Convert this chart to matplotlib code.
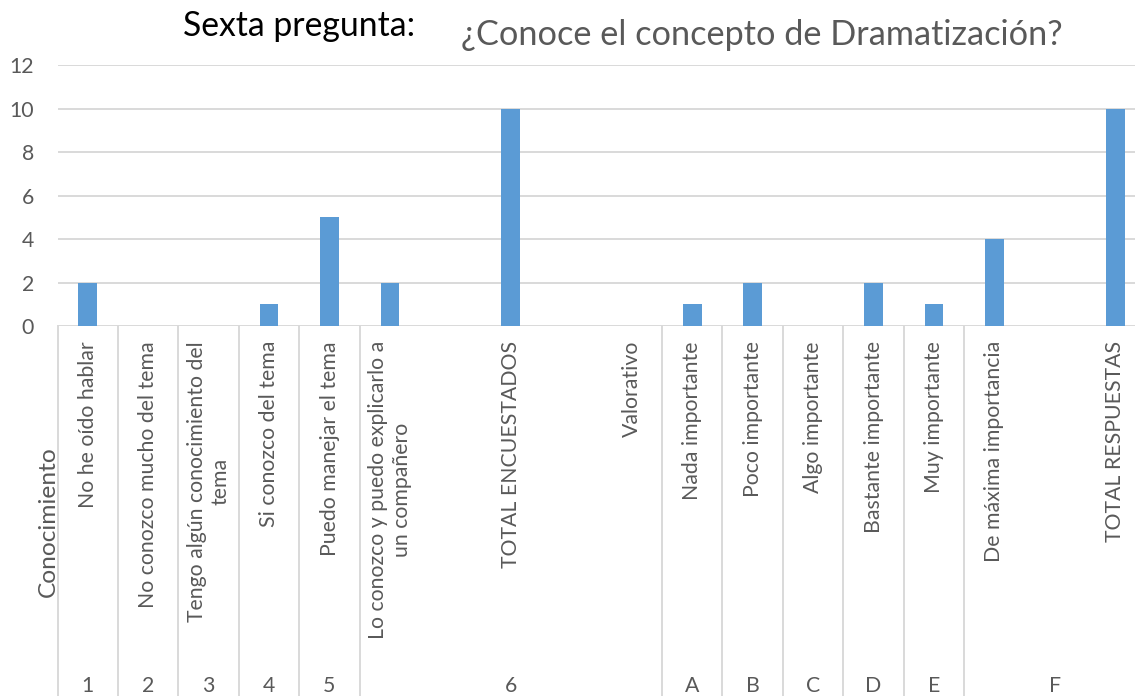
import matplotlib
matplotlib.use("Agg")
import matplotlib.pyplot as plt
import matplotlib.transforms as mtransforms
from matplotlib.lines import Line2D

# ---------------- data ----------------
categories = [
    "No he oído hablar",
    "No conozco mucho del tema",
    "Tengo algún conocimiento del\ntema",
    "Si conozco del tema",
    "Puedo manejar el tema",
    "Lo conozco y puedo explicarlo a\nun compañero",
    "",
    "TOTAL ENCUESTADOS",
    "",
    "Valorativo",
    "Nada importante",
    "Poco importante",
    "Algo importante",
    "Bastante importante",
    "Muy importante",
    "De máxima importancia",
    "",
    "TOTAL RESPUESTAS",
]
values = [2, 0, 0, 1, 5, 2, 0, 10, 0, 0, 1, 2, 0, 2, 1, 4, 0, 10]
group_labels = ["1", "2", "3", "4", "5", "6", "A", "B", "C", "D", "E", "F"]
group_sizes = [1, 1, 1, 1, 1, 5, 1, 1, 1, 1, 1, 3]
yticks = [0, 2, 4, 6, 8, 10, 12]
side_label = "Conocimiento"
title_left = "Sexta pregunta:"
title_right = "¿Conoce el concepto de Dramatización?"

# ---------------- style ----------------
W, H = 1135, 696
FONT = "Lato"
GRAY = "#595959"
GRID = "#D9D9D9"
BAR = "#5B9BD5"

plt.rcParams["font.family"] = [FONT, "DejaVu Sans"]

fig = plt.figure(figsize=(W / 100, H / 100), dpi=100)
ax_left, ax_right, ax_top, ax_bot = 57.5, 1145.5, 65.3, 326.0
ax = fig.add_axes([ax_left / W, 1 - ax_bot / H, (ax_right - ax_left) / W,
                   (ax_bot - ax_top) / H])

x = list(range(len(categories)))
ax.bar(x, values, width=0.31, color=BAR, linewidth=0, zorder=3)
ax.set_xlim(-0.5, len(categories) - 0.5)
ax.set_ylim(0, 12)
ax.set_yticks(yticks)
ax.yaxis.grid(True, color=GRID, linewidth=1.4)
ax.set_axisbelow(True)
for s in ax.spines.values():
    s.set_visible(False)
ax.set_xticks([])
ax.tick_params(axis="y", length=0, pad=17, labelcolor=GRAY, labelsize=14)

blend = mtransforms.blended_transform_factory(ax.transData, fig.transFigure)

# category labels (inner level)
cat_texts = []
for i, lab in enumerate(categories):
    if not lab:
        continue
    t = fig.text(i, 1 - 341 / H, lab, transform=blend, rotation=90,
                 ha="center", va="top", multialignment="center",
                 color=GRAY, fontsize=14)
    cat_texts.append((lab, t))

# group labels (outer level) and separators
start = 0
bounds = [-0.5]
grp_texts = []
for g, n in zip(group_labels, group_sizes):
    center = start + (n - 1) / 2
    t = fig.text(center, 1 - 692 / H, g, transform=blend, ha="center",
                 va="baseline", color=GRAY, fontsize=14)
    grp_texts.append(t)
    start += n
    bounds.append(start - 0.5)
for b in bounds:
    fig.add_artist(Line2D([b, b], [1 - ax_bot / H, 0], transform=blend,
                          color=GRID, linewidth=1.4))

side = fig.text(48 / W, 1 - 522 / H, side_label, rotation=90, ha="center",
                va="center", color=GRAY, fontsize=14)

t1 = fig.text(183 / W, 1 - 36 / H, title_left, ha="left", va="baseline",
              color="black", fontsize=24)
t2 = fig.text(461 / W, 1 - 45 / H, title_right, ha="left", va="baseline",
              color=GRAY, fontsize=24, fontweight="normal")

# ---- fit text sizes to the reference lengths ----
fig.canvas.draw()
r = fig.canvas.get_renderer()


def fit(texts, target, dim):
    cur = 0
    for t in texts:
        bb = t.get_window_extent(r)
        cur += bb.height if dim == "h" else bb.width
    k = target / cur
    for t in texts:
        t.set_fontsize(t.get_fontsize() * k)
    return k


ref = {"No he oído hablar": 173, "TOTAL ENCUESTADOS": 213,
       "Tengo algún conocimiento del\ntema": 290}
sel = [t for lab, t in cat_texts if lab in ref]
k = fit(sel, sum(ref.values()), "h")
for lab, t in cat_texts:
    if lab not in ref:
        t.set_fontsize(14 * k)
for t in grp_texts:
    t.set_fontsize(14 * k)
ax.tick_params(axis="y", labelsize=14 * k)
fit([side], 151, "h")
fit([t1], 232, "w")
fit([t2], 602, "w")

fig.savefig("out.png", dpi=100)
